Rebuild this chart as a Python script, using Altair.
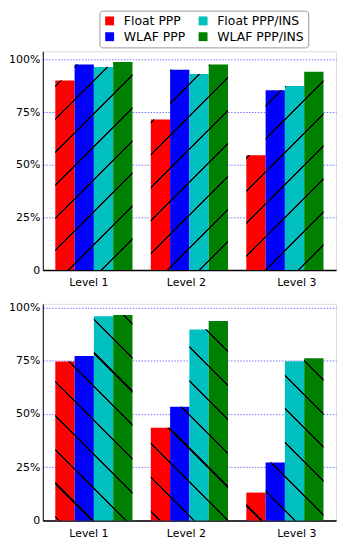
import math
import altair as alt
import pandas as pd

# ---------------- data ----------------
levels = ["Level 1", "Level 2", "Level 3"]
series = ["Float PPP", "WLAF PPP", "Float PPP/INS", "WLAF PPP/INS"]
series_colors = ["#ff0000", "#0000ff", "#00bfbf", "#008000"]

top_float_ppp = [0.901, 0.716, 0.546]
top_wlaf_ppp = [0.978, 0.952, 0.855]
top_float_ins = [0.966, 0.932, 0.875]
top_wlaf_ins = [0.989, 0.978, 0.943]

bot_float_ppp = [0.746, 0.435, 0.131]
bot_wlaf_ppp = [0.772, 0.534, 0.272]
bot_float_ins = [0.959, 0.897, 0.748]
bot_wlaf_ins = [0.965, 0.936, 0.762]

y_ticks = [0, 0.25, 0.5, 0.75, 1.0]

# ---------------- layout / style ----------------
W = 295
PI, PO = 0.192, 0.131
LW = 1.5
FONT = "DejaVu Sans"


def hatch_fill(li, si, value, plot_h, dmax, direction, period, phase):
    """Black diagonal stripes on transparent, as a bounding-box linear gradient."""
    step = W / (len(levels) - PI + 2 * PO)
    band = step * (1 - PI)
    w = band / len(series)
    x0 = PO * step + li * step + si * w
    h = value / dmax * plot_h
    y0 = plot_h - h
    if direction == "/":
        A, B = w / period, h / period
        fstart = (x0 + y0) / period
        x1 = 0.0
    else:
        A, B = -w / period, h / period
        fstart = (y0 - (x0 + w)) / period
        x1 = 1.0
    F = abs(A) + B
    lam = F / (A * A + B * B)
    x2 = x1 + lam * A
    y2 = lam * B
    half = LW * math.sqrt(2) / 2 / period / F
    g = phase / period
    clear = "rgba(0,0,0,0)"
    stops = [{"offset": 0, "color": clear}]
    kmin = math.floor(fstart - g) - 2
    kmax = math.ceil(fstart + F - g) + 2
    for k in range(kmin, kmax + 1):
        c = (k + g - fstart) / F
        lo, hi = c - half, c + half
        if hi <= 0 or lo >= 1:
            continue
        lo = round(max(lo, 0.0), 5)
        hi = round(min(hi, 1.0), 5)
        stops += [
            {"offset": lo, "color": clear},
            {"offset": lo, "color": "black"},
            {"offset": hi, "color": "black"},
            {"offset": hi, "color": clear},
        ]
    stops.append({"offset": 1, "color": clear})
    return {"gradient": "linear", "x1": x1, "y1": 0, "x2": round(x2, 5),
            "y2": round(y2, 5), "stops": stops}


def make_panel(vals, plot_h, dmax, direction, period, phase, show_legend):
    rows = []
    for si, s in enumerate(series):
        for li, lv in enumerate(levels):
            rows.append({"level": lv, "series": s, "value": vals[si][li]})
    df = pd.DataFrame(rows)

    xaxis = alt.Axis(
        title=None, labelAngle=0, ticks=False, tickSize=0, grid=False,
        domainColor="black", domainWidth=1.5, labelFontSize=11,
        labelColor="black", labelPadding=7, labelFont=FONT,
        labelOffset={"condition": [
            {"test": "datum.value === 'Level 3'", "value": 12},
            {"test": "datum.value === 'Level 2'", "value": -3}],
            "value": -5},
    )
    yaxis = alt.Axis(
        title=None, values=y_ticks, ticks=False, tickSize=0,
        labelExpr="datum.value == 0 ? '0' : format(datum.value, '.0%')",
        domainColor="black", domainWidth=1, labelFontSize=11,
        labelColor="black", labelPadding=3, labelFont=FONT,
        gridColor="#0000ff", gridOpacity=0.55, gridDash=[1.5, 1.5], gridWidth=1,
    )
    x = alt.X("level:N", scale=alt.Scale(domain=levels, paddingInner=PI,
                                         paddingOuter=PO), axis=xaxis)
    xo = alt.XOffset("series:N", scale=alt.Scale(domain=series))
    y = alt.Y("value:Q", scale=alt.Scale(domain=[0, dmax], nice=False),
              axis=yaxis)

    if show_legend:
        legend = alt.Legend(
            title=None, orient="none", legendX=57, legendY=-41, columns=2,
            direction="vertical", symbolType="square", symbolSize=80,
            symbolStrokeWidth=0, labelFont=FONT, labelFontSize=12.5,
            labelColor="black", padding=4, strokeColor="#999999",
            fillColor="white", cornerRadius=3,
            columnPadding=11, rowPadding=3, labelOffset=8, labelLimit=200,
        )
    else:
        legend = None

    base = alt.Chart().mark_bar().encode(
        x=x, xOffset=xo, y=y,
        color=alt.Color("series:N", scale=alt.Scale(domain=series,
                                                    range=series_colors),
                        legend=legend),
    )
    layers = [base]
    for si, s in enumerate(series):
        for li, lv in enumerate(levels):
            grad = hatch_fill(li, si, vals[si][li], plot_h, dmax, direction,
                              period, phase)
            layers.append(
                alt.Chart()
                .transform_filter(f"datum.level == '{lv}' && datum.series == '{s}'")
                .mark_bar(fill=grad)
                .encode(x=x, xOffset=xo, y=y)
            )
    return alt.layer(*layers, data=df).properties(width=W, height=plot_h)


H_TOP, D_TOP = 220, 1.04
H_BOT, D_BOT = 218, 1.017

top = make_panel([top_float_ppp, top_wlaf_ppp, top_float_ins, top_wlaf_ins],
                 H_TOP, D_TOP, "/", 33, 26 + H_TOP, True)
bottom = make_panel([bot_float_ppp, bot_wlaf_ppp, bot_float_ins, bot_wlaf_ins],
                    H_BOT, D_BOT, "\\", 34, 18 + H_BOT, False)

chart = (
    alt.vconcat(top, bottom, spacing=34, bounds="flush")
    .resolve_scale(color="independent")
    .resolve_legend(color="independent")
    .properties(padding=0)
    .configure_view(stroke=None)
    .configure_legend(strokeWidth=1, strokeColor="#999999")
    .configure(font=FONT)
)

chart.save("out.html", embed_options={"renderer": "svg", "actions": False})
